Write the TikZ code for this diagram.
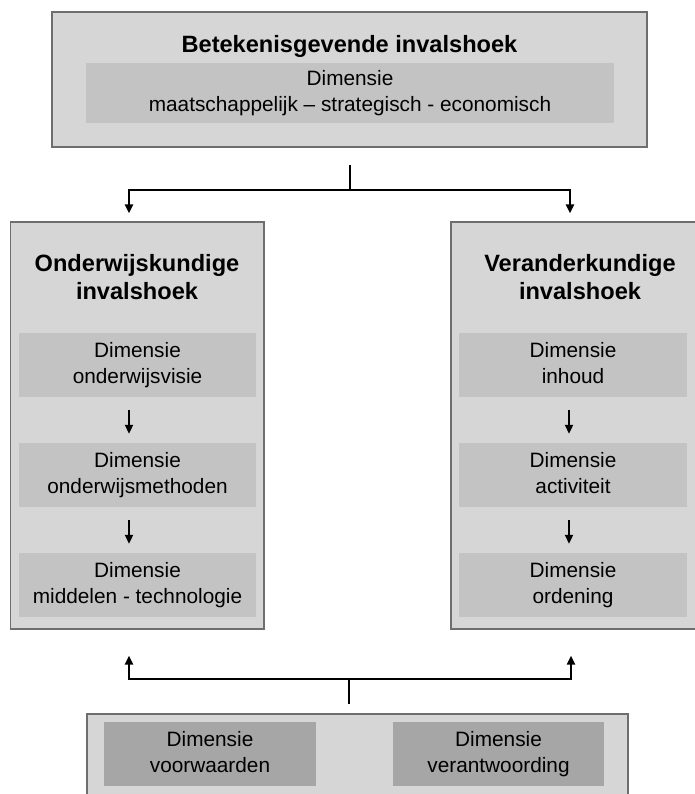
\documentclass[tikz,border=0pt]{standalone}
\usepackage{fontspec}
\setmainfont{Liberation Sans}
\usetikzlibrary{arrows.meta,calc}
\definecolor{panelfill}{HTML}{D6D6D6}
\definecolor{panelline}{HTML}{6E6E6E}
\definecolor{dimfill}{HTML}{C3C3C3}
\definecolor{dimdark}{HTML}{A6A6A6}
\newcommand{\dimfont}{\fontsize{20.8}{26}\selectfont}
\newcommand{\headfont}{\fontsize{23.6}{28}\selectfont\bfseries}
\begin{document}
\begin{tikzpicture}[x=1pt,y=-1pt,
  panel/.style={draw=panelline, fill=panelfill, line width=1.2pt, inner sep=0pt},
  dimbox/.style={fill=dimfill, inner sep=0pt, align=center, font=\dimfont, text=black,
    execute at begin node={\rule{0pt}{35pt}},
    execute at end node={\rule[-4pt]{0pt}{4pt}}},
  dimboxdark/.style={dimbox, fill=dimdark},
  head/.style={inner sep=0pt, align=center, font=\headfont, text=black},
  link/.style={line width=2pt, black},
  arr/.style={link, -{Triangle[length=9pt,width=8pt]}}
]
\useasboundingbox (0,0) rectangle (695,794);
\clip (0,0) rectangle (695,794);

% top panel
\node[panel, minimum width=595pt, minimum height=135pt] (top) at (349.5,79.5) {};
\node[head] (toptitle) at (349.5,46) {Betekenisgevende invalshoek};
\node[dimbox, minimum width=528pt, minimum height=60pt] (topdim) at (350,93)
  {Dimensie\\maatschappelijk -- strategisch - economisch};

% left panel
\node[panel, minimum width=253.5pt, minimum height=407pt] (left) at (137.25,425.5) {};
\node[head] (lefttitle) at (137,277) {Onderwijskundige\\invalshoek};
\node[dimbox, minimum width=237pt, minimum height=64pt] (l1) at (137.5,365) {Dimensie\\onderwijsvisie};
\node[dimbox, minimum width=237pt, minimum height=64pt] (l2) at (137.5,475) {Dimensie\\onderwijsmethoden};
\node[dimbox, minimum width=237pt, minimum height=64pt] (l3) at (137.5,585) {Dimensie\\middelen - technologie};

% right panel
\node[panel, minimum width=254pt, minimum height=407pt] (right) at (578,425.5) {};
\node[head] (righttitle) at (580,277) {Veranderkundige\\invalshoek};
\node[dimbox, minimum width=228pt, minimum height=64pt] (r1) at (573,365) {Dimensie\\inhoud};
\node[dimbox, minimum width=228pt, minimum height=64pt] (r2) at (573,475) {Dimensie\\activiteit};
\node[dimbox, minimum width=228pt, minimum height=64pt] (r3) at (573,585) {Dimensie\\ordening};

% bottom panel
\node[panel, minimum width=541pt, minimum height=91pt] (bottom) at (357.5,759.5) {};
\node[dimboxdark, minimum width=212pt, minimum height=64pt] (b1) at (210,754) {Dimensie\\voorwaarden};
\node[dimboxdark, minimum width=211pt, minimum height=64pt] (b2) at (498.5,754) {Dimensie\\verantwoording};

% chains inside the panels
\draw[arr] ($(l1.south)+(-8.5,13)$) -- ($(l2.north)+(-8.5,-9)$);
\draw[arr] ($(l2.south)+(-8.5,13)$) -- ($(l3.north)+(-8.5,-9)$);
\draw[arr] ($(r1.south)+(-4,13)$) -- ($(r2.north)+(-4,-9)$);
\draw[arr] ($(r2.south)+(-4,13)$) -- ($(r3.north)+(-4,-9)$);

% fork from the top panel
\draw[link] ($(top.south)+(0,17)$) -- ++(0,25) coordinate (tj);
\draw[arr] ($(tj)+(1,0)$) -| ($(left.north)+(-8.25,-8)$);
\draw[arr] ($(tj)+(-1,0)$) -| ($(right.north)+(-8,-8)$);

% fork from the bottom panel
\draw[link] ($(bottom.north)+(-8.5,-9)$) -- ++(0,-25) coordinate (bj);
\draw[arr] ($(bj)+(1,0)$) -| ($(left.south)+(-8.25,26)$);
\draw[arr] ($(bj)+(-1,0)$) -| ($(right.south)+(-7,26)$);
\end{tikzpicture}
\end{document}
